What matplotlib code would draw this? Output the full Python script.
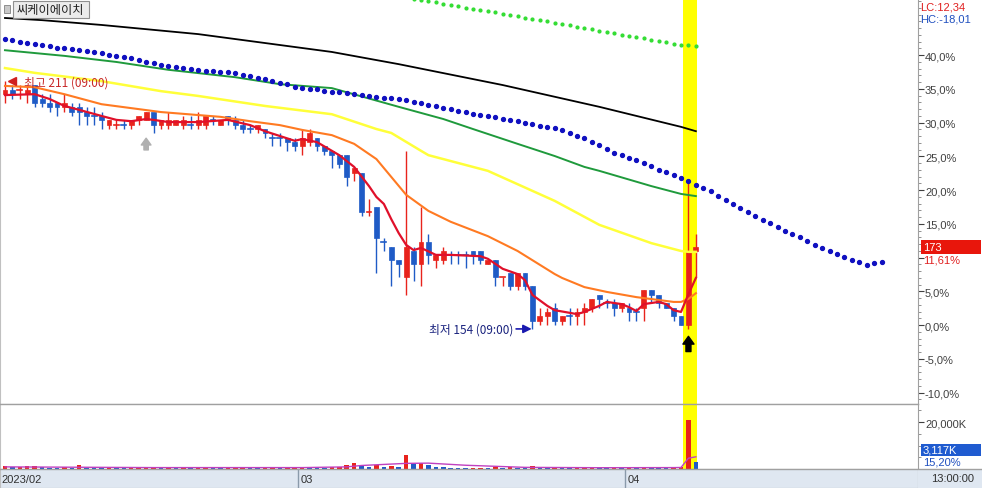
import matplotlib
matplotlib.use('Agg')
import matplotlib.pyplot as plt
from matplotlib.patches import Rectangle

plt.rcParams['font.family'] = ['Noto Sans CJK KR', 'DejaVu Sans']

# ---------------- data ----------------
title = '씨케이에이치'
base_price = 155          # 0% reference price
month_starts = [0, 40, 84]
month_labels = ['2023/02', '03', '04']
time_label = '13:00:00'

opens  = [208,209,209,208,210,207,206,206,205,205,205,204,203,203,201,201,201,201,202,202,
          204,201,201,201,201,201,201,201,202,201,203,202,201,200,200,200,198,198,198,197,
          196,197,198,196,195,194,194,190,190,181,182,174,173,170,166,172,169,174,170,170,
          171,171,171,172,172,169,170,166,167,164,167,164,156,157,159,156,157,157,158,159,
          162,160,160,159,159,158,159,163,162,160,159,157,155,172]
highs  = [211,210,210,210,210,208,208,206,208,206,206,205,205,204,202,202,202,202,203,204,
          204,202,204,202,203,203,204,203,203,202,203,203,202,201,201,200,199,199,198,198,
          200,200,198,196,195,194,194,191,190,184,182,175,173,170,195,173,182,176,171,173,
          172,172,172,172,172,170,170,166,167,167,167,164,159,159,160,157,159,159,160,161,
          162,161,161,160,160,159,163,163,162,160,159,157,188,176]
lows   = [206,207,207,206,205,205,204,203,204,203,201,201,201,200,200,200,200,200,201,202,
          199,200,200,201,200,200,200,200,201,201,201,200,199,199,199,198,196,196,195,195,
          194,196,195,194,191,191,187,188,180,180,167,172,164,166,162,165,164,169,168,169,
          169,169,168,169,169,169,164,164,163,163,163,154,155,155,155,155,155,155,155,158,
          159,159,157,158,156,156,156,160,159,159,156,155,154,166]
closes = [209,208,209,209,206,206,205,205,206,204,204,203,203,202,202,201,201,202,203,204,
          201,202,202,202,202,201,202,203,202,202,202,201,200,200,201,199,198,198,197,196,
          198,199,196,195,194,192,189,191,181,181,175,174,170,169,173,169,174,171,171,172,
          171,171,171,171,170,170,166,166,164,167,164,156,157,158,156,157,157,158,159,161,
          161,160,159,160,158,158,163,162,160,159,157,155,172,173]
doji_down = [12, 16, 25, 28, 33, 36, 37, 51, 60, 61, 62, 76, 81, 85]

volumes_k = [1200,900,1000,1100,1300,700,600,500,800,600,1800,600,500,400,500,400,350,450,500,600,
             700,500,600,400,400,350,500,600,400,350,400,500,500,400,350,450,600,500,600,700,
             900,800,600,500,700,800,1600,2700,1500,900,1600,800,1200,900,5800,2000,2700,1500,900,800,
             600,500,400,500,600,400,900,500,700,600,500,1300,800,600,700,500,400,500,600,700,
             600,400,500,400,500,400,900,600,500,400,600,900,20900,3117]
vol_change_label = '15,20%'

# moving-average lines (candle index, price)
ma5_idx = [0,4,6,8,10,13,15,17,19,20,22,26,30,33,35,37,39,40,42,44,45,47,49,50,51,52,53,54,55,56,
           58,60,64,65,67,69,70,71,73,74,76,77,78,80,81,83,84,85,86,88,89,90,91,92,93]
ma5_val = [207.8,208.0,206.9,205.3,204.4,203.0,202.1,201.8,202.3,202.1,201.6,201.6,202.1,200.9,199.5,
           198.4,197.3,197.7,197.0,195.0,194.0,191.3,186.9,184.4,182.8,179.3,176.1,173.4,172.2,172.7,
           171.1,171.1,170.8,170.2,167.9,166.7,165.3,161.9,159.4,158.4,157.8,157.5,158.0,159.4,160.3,
           159.8,159.1,158.2,159.8,160.3,159.8,158.4,158.0,162.1,165.8]
ma20_idx = [0,4,8,13,17,21,29,33,37,40,44,47,50,52,54,57,60,65,69,74,75,78,81,85,90,91,92,93]
ma20_val = [209.9,209.6,208.0,205.7,204.8,203.9,202.8,201.8,200.9,199.8,198.6,196.6,193.1,189.0,
            184.9,181.2,178.7,175.4,172.0,166.7,165.8,163.7,162.6,161.4,160.3,160.3,161.0,162.3]
ma60_idx = [0,4,13,21,26,35,44,50,52,56,57,65,74,80,87,91,92,93]
ma60_val = [214.0,212.9,211.0,208.7,207.6,205.3,203.4,200.0,199.1,195.0,194.0,190.4,183.5,178.0,
            173.8,172.0,171.8,171.8]
ma120_idx = [0,8,15,22,31,37,44,53,59,63,69,74,78,80,87,91,93]
ma120_val = [218.1,216.8,215.4,213.6,211.9,210.3,209.4,205.1,202.3,200.0,196.6,193.8,191.3,190.4,
             186.9,185.1,184.6]
ma240_idx = [0,5,13,26,44,53,67,80,91,93]
ma240_val = [225.5,225.0,223.9,221.8,217.7,214.9,210.1,205.1,200.5,199.5]

# leading spans (dots, one per candle index starting at given index)
span_blue_start = 0
span_blue = [220.7,220.4,220.1,219.8,219.5,219.2,219.0,218.7,218.5,218.3,218.1,217.9,217.7,217.5,
             217.1,216.8,216.5,216.2,215.8,215.5,215.1,214.8,214.4,214.2,214.0,213.8,213.6,213.4,
             213.3,213.1,213.0,212.8,212.4,212.1,211.7,211.4,211.0,210.6,210.3,209.7,209.5,209.3,
             209.1,208.8,208.6,208.4,208.2,208.0,207.8,207.6,207.4,207.2,207.1,206.9,206.6,206.2,
             205.9,205.5,205.2,204.8,204.5,204.1,203.8,203.5,203.2,203.0,202.7,202.4,202.1,201.8,
             201.5,201.2,200.8,200.5,200.2,199.8,199.2,198.5,197.9,197.1,196.3,195.4,194.6,194.0,
             193.4,192.8,192.1,191.4,190.7,190.1,189.5,188.8,188.0,187.2,186.5,185.8,184.7,183.7,
             182.8,181.9,181.0,180.0,179.2,178.4,177.5,176.6,176.0,175.1,174.3,173.4,172.7,172.0,
             171.3,170.6,170.0,169.5,168.8,169.2,169.5]
span_green_start = 55
span_green = [229.9,229.6,229.3,229.1,228.8,228.5,228.2,227.9,227.6,227.3,227.0,226.8,226.5,226.2,
              225.9,225.6,225.3,225.0,224.7,224.4,224.1,223.8,223.5,223.2,222.9,222.6,222.3,222.0,
              221.7,221.4,221.1,220.8,220.5,220.2,219.9,219.6,219.4,219.2,219.0]

# volume moving average line (index, K)
vma_idx = [0, 20, 40, 46, 48, 54, 57, 62, 70, 80, 90, 91, 92, 93]
vma_val = [900, 600, 600, 900, 1500, 2400, 2500, 1600, 700, 550, 600, 650, 4600, 5200]

hl_idx = [92, 93]           # highlighted session

# ---------------- figure ----------------
W, H = 982, 489
fig = plt.figure(figsize=(W / 100, H / 100), dpi=100)
fig.patch.set_facecolor('white')

def fx(px):
    return px / W

def fy(py):
    return 1 - py / H

RIGHT = 918
ax = fig.add_axes([0, fy(405), fx(RIGHT), 405 / H])
axv = fig.add_axes([0, fy(470), fx(RIGHT), 65 / H], sharex=ax)
axd = fig.add_axes([0, 0, fx(RIGHT), 19 / H], sharex=ax)

XMIN, XMAX = -0.67, 122.9
ax.set_xlim(XMIN, XMAX)
ax.set_ylim(136.86, 229.86)
axv.set_ylim(0, 27700)

RED = '#e8231c'
BLUE = '#1f5bc6'
GRID = '#a0a0a0'

for a in (ax, axv):
    a.axvspan(hl_idx[0] - 0.7, hl_idx[-1] + 0.15, color='#ffff00', zorder=0, lw=0)

# candles
bw = 0.66
for i, (o, h, l, c) in enumerate(zip(opens, highs, lows, closes)):
    if c > o:
        col = RED
    elif c < o:
        col = BLUE
    else:
        col = BLUE if i in doji_down else RED
    ax.plot([i, i], [l, h], color=col, lw=1.0, zorder=3, solid_capstyle='butt')
    if c == o:
        ax.plot([i - bw / 2, i + bw / 2], [c, c], color=col, lw=1.2, zorder=3)
    else:
        ax.add_patch(Rectangle((i - bw / 2, min(o, c)), bw, abs(c - o), facecolor=col,
                               edgecolor=col, lw=0.5, zorder=3))

# lines
ax.plot(ma240_idx, ma240_val, color='black', lw=1.3, zorder=4)
ax.plot(ma120_idx, ma120_val, color='#1f9a3c', lw=1.4, zorder=4)
ax.plot(ma60_idx, ma60_val, color='#ffff3a', lw=1.8, zorder=4)
ax.plot(ma20_idx, ma20_val, color='#ff7a22', lw=1.5, zorder=4)
ax.plot(ma5_idx, ma5_val, color='#e0102a', lw=1.6, zorder=4)
ax.plot(range(span_blue_start, span_blue_start + len(span_blue)), span_blue, ls='none',
        marker='o', ms=2.8, color='#1010c0', zorder=5)
ax.plot(range(span_green_start, span_green_start + len(span_green)), span_green, ls='none',
        marker='o', ms=2.0, color='#33dd33', zorder=5)

# high / low annotations
hi_i = max(range(len(highs)), key=lambda k: (highs[k], -k))
lo_i = min(range(len(lows)), key=lambda k: (lows[k], k))
ax.plot(hi_i + 1.0, highs[hi_i], marker='<', ms=6, color='#d02020', zorder=6)
ax.text(hi_i + 2.6, highs[hi_i] - 0.2, f'최고 {highs[hi_i]} (09:00)', color='#c82828',
        fontsize=8.5, va='center', ha='left', zorder=6)
ax.annotate('', xy=(lo_i - 0.1, lows[lo_i] + 0.1), xytext=(lo_i - 2.2, lows[lo_i] + 0.1),
            arrowprops=dict(arrowstyle='-|>,head_width=0.25,head_length=0.5', color='#1a1ab0',
                            lw=1.2, shrinkA=0, shrinkB=0), zorder=6)
ax.text(lo_i - 2.5, lows[lo_i] + 0.1, f'최저 {lows[lo_i]} (09:00)', color='#1a237e',
        fontsize=8.5, va='center', ha='right', zorder=6)

# signal arrows
ax.annotate('', xy=(92, 152.4), xytext=(92, 148.9),
            arrowprops=dict(arrowstyle='simple,head_width=1.0,head_length=0.7,tail_width=0.45',
                            color='black', shrinkA=0, shrinkB=0, mutation_scale=8), zorder=6)
ax.annotate('', xy=(19, 197.9), xytext=(19, 195.2),
            arrowprops=dict(arrowstyle='simple,head_width=1.0,head_length=0.7,tail_width=0.45',
                            color='#b0b0b0', shrinkA=0, shrinkB=0, mutation_scale=7), zorder=6)

# right axis (percent); the 10% label sits under the current-price marker
pcts = list(range(-10, 45, 5))
ax.yaxis.tick_right()
ax.set_yticks([base_price * (1 + p / 100) for p in pcts])
ax.set_yticklabels(['' if p == 10 else f'{p:.1f}%'.replace('.', ',') for p in pcts])
ax.set_yticks([base_price * (1 + p / 100) for p in range(-11, 49)], minor=True)
ax.tick_params(axis='y', which='major', length=4, width=0.8, pad=1, labelsize=8,
               colors='#404040', labelfontfamily='Liberation Sans')
ax.tick_params(axis='y', which='minor', length=2, width=0.6, colors='#808080')
ax.tick_params(axis='x', which='both', bottom=False, labelbottom=False)

for a in (ax, axv, axd):
    for s in ('top',):
        a.spines[s].set_visible(False)
    a.spines['left'].set_color('#c0c0c0')
    a.spines['right'].set_color(GRID)
    a.spines['bottom'].set_color(GRID)

# volume
vcols = [RED if k == 0 or volumes_k[k] >= volumes_k[k - 1] else BLUE for k in range(len(volumes_k))]
axv.bar(range(len(volumes_k)), volumes_k, width=0.6, color=vcols, zorder=3)
axv.plot(vma_idx, vma_val, color='#c040c0', lw=1.0, zorder=4)
axv.yaxis.tick_right()
axv.set_yticks([20000])
axv.set_yticklabels(['20,000K'])
axv.set_yticks([5000, 10000, 15000, 25000], minor=True)
axv.tick_params(axis='y', which='major', length=4, width=0.8, pad=1, labelsize=8,
                colors='#404040', labelfontfamily='Liberation Sans')
axv.tick_params(axis='y', which='minor', length=2, width=0.6, colors='#808080')
axv.tick_params(axis='x', which='both', bottom=False, labelbottom=False)

# date band
axd.set_facecolor('#dfe7f1')
axd.set_yticks([])
axd.set_ylim(0, 1)
axd.tick_params(axis='x', which='both', bottom=False, labelbottom=False)
for s, lab in zip(month_starts, month_labels):
    if s > 0:
        axd.axvline(s - 0.5, color='#8a9aaa', lw=1)
    axd.text(s - 0.5 + 0.3 if s > 0 else XMIN + 0.2, 0.45, lab, fontsize=8, va='center',
             ha='left', color='#303030', family='Liberation Sans')
fig.patches.append(Rectangle((fx(RIGHT), 0), 1 - fx(RIGHT), 19 / H, transform=fig.transFigure,
                             facecolor='#dfe7f1', edgecolor='none', zorder=0))
fig.text(fx(931), fy(479.5), time_label, fontsize=8, va='center', ha='left', color='#303030',
         family='Liberation Sans')
fig.add_artist(plt.Line2D([0, 1], [fy(470), fy(470)], color=GRID, lw=1, transform=fig.transFigure))
fig.add_artist(plt.Line2D([0, fx(RIGHT)], [fy(405), fy(405)], color=GRID, lw=1,
                          transform=fig.transFigure))

# title box
fig.patches.append(Rectangle((fx(4), fy(14)), fx(6), 8 / H, transform=fig.transFigure,
                             facecolor='#c8c8c8', edgecolor='#808080', lw=0.6))
fig.patches.append(Rectangle((fx(13), fy(19)), fx(76), 17 / H, transform=fig.transFigure,
                             facecolor='#ececec', edgecolor='#909090', lw=0.8))
fig.text(fx(17), fy(10.5), title, fontsize=8.8, va='center', ha='left', color='#202020')

# LC / HC
last = closes[-1]
lc = (last / min(lows) - 1) * 100
hc = (last / max(highs) - 1) * 100
fig.text(fx(920), fy(8), f'LC:{lc:.2f}'.replace('.', ','), color='#e02020', fontsize=8,
         va='center', family='Liberation Sans')
fig.text(fx(920), fy(20), f'HC:{hc:.2f}'.replace('.', ','), color='#1f4fbf', fontsize=8,
         va='center', family='Liberation Sans')

# current price box
fig.canvas.draw()
ypx = ax.transData.transform((0, last))[1]
fig.patches.append(Rectangle((fx(921), (ypx - 7) / H), fx(60), 14 / H, transform=fig.transFigure,
                             facecolor='#e8160c', edgecolor='none', zorder=5))
fig.text(fx(923), ypx / H, f'{last}', color='white', fontsize=8, va='center',
         family='Liberation Sans', zorder=6)
cur_pct = (last / base_price - 1) * 100
fig.text(fx(923), (ypx - 13) / H, f'{cur_pct:.2f}%'.replace('.', ','), color='#e02020',
         fontsize=8, va='center', family='Liberation Sans')

# current volume box (fixed slot above the bar)
fig.patches.append(Rectangle((fx(921), fy(457)), fx(60), 12 / H, transform=fig.transFigure,
                             facecolor='#1f5bd0', edgecolor='none', zorder=5))
fig.text(fx(923), fy(451), f'{volumes_k[-1]:,}K', color='white', fontsize=8, va='center',
         family='Liberation Sans', zorder=6)
fig.text(fx(923), fy(462.5), vol_change_label, color='#1f4fbf', fontsize=8, va='center',
         family='Liberation Sans')

fig.savefig('out.png', dpi=100, facecolor='white')
